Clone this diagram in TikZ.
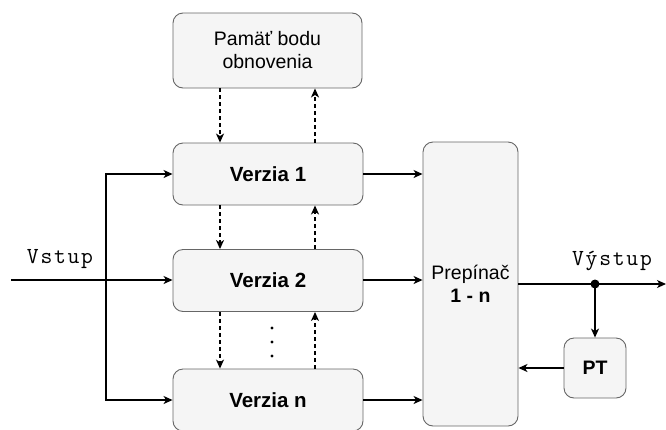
\documentclass[tikz,border=0pt]{standalone}
\usepackage{fontspec}
\setmainfont{Liberation Sans}
\newfontfamily\sigfont{Latin Modern Mono}[LetterSpace=7.5]
\usetikzlibrary{arrows.meta}
\begin{document}
\begin{tikzpicture}[x=1pt,y=-1pt,
  block/.style={draw=black!60, fill=black!4, line width=0.9pt, rounded corners=10pt,
    align=center, inner sep=0pt, font=\fontsize{19.5}{23}\selectfont},
  verbox/.style={block, minimum width=190pt, minimum height=62pt,
    font=\fontsize{20.5}{23}\selectfont\bfseries},
  flow/.style={line width=1.2pt, -{Stealth[length=9pt,width=8pt,inset=2.5pt]}},
  back/.style={flow, dashed, dash pattern=on 4pt off 3pt},
  wire/.style={line width=1.2pt},
  sig/.style={font=\fontsize{23}{23}\selectfont\sigfont}
]
\useasboundingbox (0,0) rectangle (666,429);

% blocks
\node[block, minimum width=189pt, minimum height=75pt] (mem) at (267.5,50.5) {Pamäť bodu\\obnovenia};
\node[verbox] (v1) at (268,174) {Verzia 1};
\node[verbox] (v2) at (268,280.5) {Verzia 2};
\node[verbox] (vn) at (268,400) {Verzia n};
\node[block, minimum width=95pt, minimum height=284pt] (sw) at (470.5,284) {Prepínač\\\textbf{1 - n}};
\node[block, minimum width=62pt, minimum height=60pt, font=\fontsize{19.5}{23}\selectfont\bfseries] (pt) at (595,368) {PT};

% input distribution
\coordinate (in) at (11,280);
\coordinate (split) at (106,280);
\node[sig, anchor=base] (lin) at (60,263) {Vstup};
\draw[wire] (in) -- (split);
\draw[flow] (split) -- (v2.west |- split);
\draw[flow] (split) |- (v1.west);
\draw[flow] (split) |- (vn.west);

% versions into the switch
\draw[flow] (v1.east) -- (sw.west |- v1.east);
\draw[flow] (v2.east |- split) -- (sw.west |- split);
\draw[flow] (vn.east) -- (sw.west |- vn.east);

% checkpoint traffic
\draw[back] (mem.south -| 220,0) -- (v1.north -| 220,0);
\draw[back] (v1.north -| 315,0) -- (mem.south -| 315,0);
\draw[back] (v1.south -| 220,0) -- (v2.north -| 220,0);
\draw[back] (v2.north -| 315,0) -- (v1.south -| 315,0);
\draw[back] (v2.south -| 220,0) -- (vn.north -| 220,0);
\draw[back] (vn.north -| 315,0) -- (v2.south -| 315,0);
\foreach \k/\yy in {1/328,2/342,3/356}
  \fill (272,\yy) circle (1.6pt);

% output and test
\coordinate (tap) at (595,284);
\coordinate (out) at (666,284);
\node[sig, anchor=base] (lout) at (612,265) {Výstup};
\draw[flow] (sw.east) -- (out);
\fill (tap) circle (4.5pt);
\draw[flow] (tap) -- (pt.north);
\draw[flow] (pt.west) -- (sw.east |- pt.west);
\end{tikzpicture}
\end{document}
